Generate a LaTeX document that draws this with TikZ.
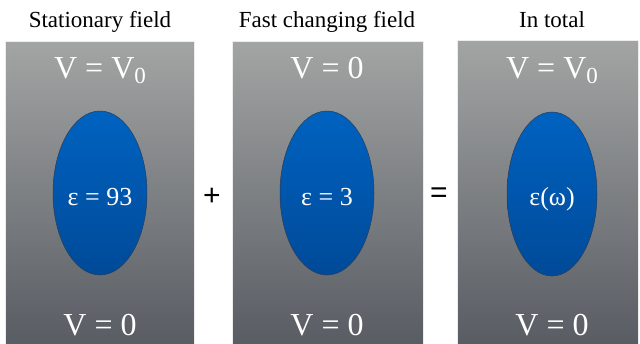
\documentclass[tikz,border=0pt]{standalone}
\usepackage{fontspec}
\setmainfont{Liberation Serif}
\newfontfamily\opfont{Liberation Sans}
\definecolor{grtop}{RGB}{163,165,164}
\definecolor{grbot}{RGB}{88,92,99}
\definecolor{bltop}{RGB}{0,98,192}
\definecolor{blbot}{RGB}{0,74,152}
\definecolor{blline}{RGB}{40,60,90}
\begin{document}
\begin{tikzpicture}[x=1pt,y=-1pt,
  title/.style={anchor=base,font=\fontsize{23}{23}\selectfont,text=black},
  volt/.style={anchor=base,font=\fontsize{32}{32}\selectfont,text=white},
  eps/.style={anchor=base,font=\fontsize{26}{26}\selectfont,text=white},
  opsym/.style={font=\opfont\fontsize{30}{30}\selectfont,text=black},
  panel/.style={top color=grtop,bottom color=grbot,draw=white!85!gray,line width=0.6pt},
  blob/.style={top color=bltop,bottom color=blbot,draw=blline,line width=0.5pt}]
\useasboundingbox (0,0) rectangle (640,343);
\fill[white] (0,0) rectangle (640,343);
% panels
\shade[panel] (5,41) rectangle (194,345);
\shade[panel] (232,41) rectangle (423,345);
\shade[panel] (457,40) rectangle (638,345);
% ellipses
\shade[blob] (100,193) ellipse [x radius=47,y radius=82];
\shade[blob] (327,193) ellipse [x radius=47,y radius=82];
\shade[blob] (552,194) ellipse [x radius=45,y radius=82];
\node (b1) at (100,193) {};
\node (b2) at (327,193) {};
\node (b3) at (552,194) {};
% titles
\node[title] (t1) at (100,27) {Stationary field};
\node[title] (t2) at (327,27) {Fast changing field};
\node[title] (t3) at (552,27) {In total};
% voltages
\newcommand{\Vnought}{V = V\raisebox{-0.18em}{\fontsize{23}{23}\selectfont 0}}
\node[volt] (v1t) at (100,78) {\Vnought};
\node[volt] (v2t) at (327,78) {V = 0};
\node[volt] (v3t) at (552,78) {\Vnought};
\node[volt] (v1b) at (100,335) {V = 0};
\node[volt] (v2b) at (327,335) {V = 0};
\node[volt] (v3b) at (552,335) {V = 0};
% permittivities
\node[eps] (e1) at (100,205) {ε = 93};
\node[eps] (e2) at (327,205) {ε = 3};
\node[eps] (e3) at (552,205) {ε(ω)};
% operators
\node[opsym] (plus) at (212,197) {+};
\node[opsym] (eq) at (439,195) {=};
\end{tikzpicture}
\end{document}
